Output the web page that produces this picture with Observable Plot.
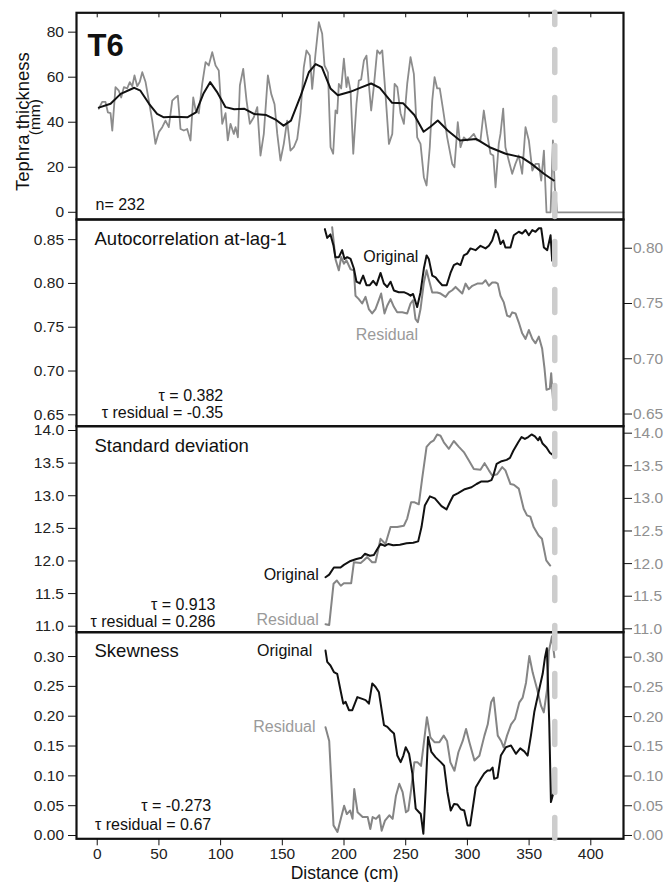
<!DOCTYPE html>
<html><head><meta charset="utf-8">
<script src="https://cdn.jsdelivr.net/npm/d3@7"></script>
<script src="https://cdn.jsdelivr.net/npm/@observablehq/plot@0.6"></script>
<style>
body{margin:0;background:#fff;}
#chart{position:relative;width:667px;height:882px;background:#fff;}
#chart svg{position:absolute;left:0;top:0;}
</style></head><body><div id="chart"></div>
<script>
// ---------- DATA: [distance (cm), value] ----------
const rawThickness = [[1.3,46],[4.0,49],[6.7,49],[8.6,44.4],[10.8,44],[12.2,36.3],[14.8,55.6],[17.5,54],[19.4,51],[21.6,55.6],[24.3,55],[26.4,57.8],[28.4,56],[30.2,60.8],[32.4,56],[34.5,58],[36.5,62.2],[39.1,58],[41.8,49.6],[44.6,40.7],[47.2,30.4],[49.9,35.6],[52.7,37.8],[55.3,40.7],[58.0,37.8],[60.8,49.6],[63.5,51],[65.3,51.8],[67.5,37],[70.2,36.3],[72.9,37],[75.6,31.9],[77.8,51],[79.7,45.5],[82.3,44],[85.1,57],[87.8,66.7],[90.4,65.2],[93.2,71.1],[95.9,65.2],[98.5,63],[101.3,39.3],[104,44],[105.8,31.9],[108,39.3],[110.7,34.8],[112.1,37.8],[114,33.3],[115.6,56.3],[118.3,63.7],[121,49.6],[123.7,39.3],[126.9,42.2],[129.7,46.7],[132.3,25.2],[135,34.8],[138.3,60.8],[141,52.6],[143.7,48],[145.9,34.8],[148.5,23],[151.2,30.4],[153.9,40.7],[156.6,27.4],[159.3,28.9],[162.1,32.6],[164.7,44],[167.4,64.4],[169.6,71.9],[172.3,69.6],[174.2,54.8],[176.9,70.4],[179.6,84.4],[182.3,79.3],[184.2,65.2],[187.0,62],[189.1,28.9],[191.2,26],[193.1,45.2],[194.5,44],[195.8,57],[197.7,55],[199.9,68.2],[202,55.6],[203.1,60],[205.3,54],[207.5,26],[210.1,48.2],[212,58.5],[213.9,59],[216.1,67.4],[218.2,69.6],[220.1,57],[222,45.2],[224.2,56],[226.9,71.9],[229,70.4],[231,71.9],[233.6,52.6],[236.4,30.4],[239.1,34.8],[241,57],[243.2,55.6],[245.8,44],[248.5,39.3],[251.2,57],[253.9,68.9],[256.6,61.5],[259.3,33.3],[262,30.4],[264.7,15.6],[266.9,11.9],[269.5,28.9],[271.5,49.6],[273.4,60],[275.5,55],[277.6,55],[280.4,45.2],[283.6,33.3],[287.7,21.5],[289.5,20],[292.2,40],[294.4,28.9],[297.1,33.3],[299.8,31.9],[302.5,33.3],[305.2,34.8],[307.9,31.9],[310.6,31.9],[313.3,45.2],[316,34.8],[318.7,26],[321,25.2],[322.8,11.1],[325.4,30.4],[326.8,34.8],[329,46],[330.8,28.9],[333.5,23],[336.3,17.1],[338.9,21.5],[341.6,25.2],[344.4,17.1],[347.1,37.8],[349.8,31.9],[352.6,18.5],[355.2,21.5],[357.9,21.5],[359.8,14.1],[362,27.4],[364.1,0],[367.4,0],[369.3,31.9],[370.8,11.1],[372.8,0],[426.5,0]];
const smoothThickness = [[1.3,46.5],[10.8,48.2],[19,52.6],[30,55.3],[35,54],[42,48.2],[48.5,43.7],[54,42.2],[62,42.4],[73,42.2],[80,44.4],[86,52.6],[91.5,57.8],[97,53.5],[104,46.7],[111,45.8],[119,46],[127,43.7],[137,43.2],[145,41],[151,38.5],[157,40.7],[165,51.9],[171.5,62.2],[177,65.8],[182,64.5],[189,55],[195,52],[205,53.5],[214,55.5],[222,57.2],[229,55.3],[239,48.6],[248,48.4],[257,43.2],[264.5,35.8],[270,38],[276,40.8],[284,36.3],[294,31.9],[307,32.6],[318,28.9],[331,26],[344,24.4],[352,21.5],[362,17.1],[370,14.1]];
const acOriginal = [[184.5,0.862],[186.4,0.852],[189,0.856],[191.5,0.843],[193,0.830],[195.8,0.830],[198.5,0.838],[200.4,0.828],[202.6,0.830],[205.3,0.828],[208,0.817],[210.1,0.802],[212.8,0.800],[215.5,0.809],[218.2,0.798],[220.9,0.798],[223.6,0.803],[226.3,0.798],[229.6,0.812],[232.3,0.800],[235,0.796],[237.7,0.802],[240.4,0.792],[244.4,0.790],[248.5,0.790],[251.7,0.788],[253.9,0.786],[256,0.788],[259.3,0.773],[262,0.790],[264.7,0.817],[266.9,0.832],[268.7,0.828],[271.5,0.809],[274.2,0.807],[276.9,0.802],[279.6,0.798],[283.2,0.798],[286.3,0.812],[289,0.821],[291.7,0.823],[294.4,0.821],[297.1,0.832],[299.8,0.834],[302.5,0.840],[306.6,0.838],[310.6,0.843],[314.7,0.840],[317.4,0.843],[320.1,0.849],[322.8,0.861],[324.6,0.857],[326.8,0.845],[329,0.849],[330.8,0.841],[334.9,0.841],[337.6,0.855],[341.6,0.859],[344.4,0.857],[347.1,0.861],[349.8,0.855],[352.6,0.861],[355.2,0.859],[357.9,0.863],[359.8,0.863],[362,0.841],[364.7,0.838],[367.4,0.855],[368.7,0.826]];
const acResidual = [[190.4,0.819],[193.1,0.790],[195.8,0.780],[197.7,0.792],[199.9,0.786],[202,0.789],[205.3,0.781],[208,0.780],[209.3,0.757],[212,0.754],[214.7,0.750],[217.4,0.756],[220.1,0.745],[222.8,0.741],[225.5,0.745],[228.2,0.753],[230.1,0.759],[232.8,0.741],[235,0.748],[237.7,0.754],[240.4,0.747],[243.1,0.742],[247.2,0.742],[251.2,0.741],[253.9,0.750],[256,0.753],[257.9,0.736],[259.8,0.733],[262,0.745],[264.7,0.769],[266.9,0.780],[268.7,0.772],[271.5,0.760],[275.5,0.760],[278.3,0.759],[282.3,0.756],[285,0.760],[287.7,0.762],[290.4,0.765],[293.1,0.762],[295.8,0.759],[298.5,0.768],[301.2,0.763],[304,0.766],[308,0.768],[312.1,0.768],[314.7,0.771],[317.4,0.766],[320.1,0.769],[322.8,0.769],[324.6,0.768],[326.8,0.757],[329.5,0.751],[332.2,0.739],[334.4,0.738],[336.3,0.742],[339,0.741],[341.6,0.733],[344.4,0.723],[347.1,0.718],[349.8,0.726],[352.6,0.718],[355.2,0.714],[357.9,0.720],[360.6,0.709],[362.5,0.691],[364.1,0.672],[366.8,0.673],[367.9,0.687],[369.3,0.664],[370,0.655]];
const sdOriginal = [[185,11.75],[188,11.79],[191.8,11.90],[197.2,11.90],[199.9,11.94],[205.3,12.0],[210.1,12.03],[214.2,12.05],[216.9,12.11],[221,12.08],[224.2,12.09],[226.9,12.18],[229.6,12.26],[233.1,12.23],[235.8,12.26],[239.9,12.24],[245.3,12.25],[250.7,12.27],[256.1,12.28],[260.1,12.30],[262.8,12.52],[265.5,12.85],[269.6,12.99],[273.6,12.96],[279,12.84],[283.1,12.79],[285.8,12.90],[288.5,13.0],[292.5,13.04],[297.9,13.10],[303.3,13.13],[307.4,13.18],[311.4,13.22],[316.8,13.22],[319.5,13.24],[321,13.31],[323.7,13.49],[327.7,13.53],[331.8,13.55],[334.5,13.58],[337.2,13.69],[341.2,13.82],[343.9,13.90],[346.6,13.87],[349.3,13.90],[352,13.94],[354.7,13.91],[357.4,13.85],[358.7,13.90],[360.9,13.80],[364.1,13.74],[366.8,13.66],[369.5,13.62]];
const sdResidual = [[185,11.07],[188,11.06],[191.5,11.69],[194.2,11.74],[197.4,11.66],[199.9,11.70],[205.8,11.70],[208,12.02],[213.5,12.01],[216.1,12.05],[218.8,12.10],[222.8,12.02],[225.5,12.02],[229.6,12.38],[233.6,12.30],[237.7,12.56],[243.1,12.56],[248.5,12.58],[251.2,12.69],[254.4,12.94],[257.2,12.94],[260.6,12.91],[263.3,13.30],[266.9,13.79],[270.1,13.86],[272.8,13.89],[275.5,13.98],[278.2,13.96],[280.9,13.86],[285,13.76],[289,13.88],[293.1,13.79],[297.1,13.71],[301.2,13.58],[305.2,13.45],[310.6,13.44],[313.9,13.54],[317.4,13.43],[320.1,13.35],[324.1,13.37],[328.2,13.48],[330.8,13.43],[334.9,13.22],[337.6,13.21],[341.6,13.15],[345.6,12.84],[348.3,12.74],[351,12.72],[353.7,12.56],[357.7,12.43],[360.4,12.38],[363.9,12.05],[367.1,11.97]];
const skOriginal = [[185,0.310],[186.4,0.291],[189,0.285],[191.8,0.274],[194.5,0.271],[197.2,0.243],[199.4,0.221],[201.3,0.224],[204,0.210],[206.7,0.210],[210.8,0.232],[214.8,0.229],[217.5,0.227],[220.2,0.221],[222.9,0.255],[225.6,0.249],[228.3,0.240],[232.4,0.185],[235.1,0.182],[237.8,0.176],[240.5,0.171],[243.2,0.134],[245.9,0.123],[248.1,0.134],[250,0.148],[252.7,0.137],[255.4,0.104],[258.1,0.045],[260.8,0.039],[262.2,0.036],[264.3,0.003],[266.2,0.078],[268.1,0.165],[270.8,0.140],[274.3,0.131],[278.4,0.123],[281.1,0.117],[283.8,0.073],[286.5,0.042],[289.2,0.053],[291.9,0.052],[294.6,0.044],[297.4,0.042],[300.1,0.017],[302.2,0.017],[305,0.056],[306.8,0.081],[310.9,0.095],[313.6,0.104],[316.3,0.109],[318.5,0.109],[320.4,0.114],[321.7,0.095],[324.4,0.097],[327.1,0.134],[331.2,0.148],[335.3,0.151],[339.3,0.137],[342.8,0.146],[346.1,0.141],[348.8,0.134],[351.5,0.168],[354.2,0.207],[358.3,0.246],[361,0.271],[362.9,0.299],[364.4,0.314],[366.3,0.190],[367.7,0.056],[369.5,0.070]];
const skResidual = [[185,0.182],[188,0.159],[191.5,0.017],[194.7,0.006],[197.4,0.028],[200.1,0.050],[202.3,0.036],[205,0.042],[206.9,0.028],[208.3,0.078],[211,0.039],[215.1,0.031],[219.2,0.031],[221.3,0.011],[223.2,0.031],[225.9,0.028],[228.6,0.034],[230.5,0.008],[233.2,0.025],[236.7,0.034],[239.4,0.028],[242.1,0.067],[244.8,0.087],[247.5,0.073],[250.2,0.039],[252.1,0.042],[254.3,0.076],[257,0.123],[259.7,0.123],[262.4,0.117],[264.6,0.154],[267.2,0.199],[270,0.165],[273.3,0.157],[277.3,0.157],[280.8,0.168],[283.5,0.159],[286.2,0.123],[289.5,0.109],[292.7,0.140],[296.2,0.159],[298.9,0.179],[301.6,0.157],[305.7,0.126],[309.7,0.134],[313.8,0.168],[316.5,0.187],[319.2,0.224],[321.3,0.232],[324.6,0.168],[327.3,0.159],[329.4,0.148],[332.1,0.168],[335.4,0.187],[338.6,0.196],[342.1,0.224],[344.8,0.232],[347.5,0.257],[350.2,0.302],[352.9,0.274],[356.5,0.246],[359.7,0.218],[361.9,0.207],[364.6,0.246],[366,0.31],[368.5,0.335],[370.5,0.30]];
const transitionDist = [370.8];
const xTicks = [0,50,100,150,200,250,300,350,400];
const thickTicks = [0,20,40,60,80];
const acLeftTicks = [0.65,0.70,0.75,0.80,0.85];
const acRightTicks = [0.65,0.70,0.75,0.80];
const sdTicks = [11.0,11.5,12.0,12.5,13.0,13.5,14.0];
const skTicks = [0,0.05,0.10,0.15,0.20,0.25,0.30];
const panelTitles = ["Autocorrelation at-lag-1","Standard deviation","Skewness"];
const tauLabels = [["τ = 0.382","τ residual = -0.35"],["τ = 0.913","τ residual = 0.286"],["τ = -0.273","τ residual = 0.67"]];

// ---------- LAYOUT ----------
const W = 667, H = 882, ML = 76, MR = 44;
const FONT = '"Liberation Sans", Arial, Helvetica, sans-serif';
const xDomain = [-16.8, 426.5];
const BLACK = "#111", GREY = "#858585", LGREY = "#9a9a9a";
const chart = document.getElementById("chart");

function panel(top, bottom, yDomain, marks) {
  const svg = Plot.plot({
    width: W, height: H,
    marginLeft: ML, marginRight: MR, marginTop: top, marginBottom: H - bottom,
    x: {domain: xDomain, axis: null},
    y: {domain: yDomain, axis: null},
    style: {background: "transparent", overflow: "visible", fontFamily: FONT, fontSize: "15.5px", color: BLACK},
    marks
  });
  chart.appendChild(svg);
}
function ann(s, dx, dy, opts = {}) {
  return Plot.text([s], {frameAnchor: opts.frameAnchor || "top-left", text: d => d, dx, dy,
    fontSize: opts.fontSize || 16, fill: opts.fill || BLACK, textAnchor: opts.textAnchor || "start",
    lineAnchor: "middle", fontWeight: opts.fontWeight || "normal", rotate: opts.rotate || 0});
}
const lineOf = (arr, stroke, w) => Plot.line(arr, {x: d => d[0], y: d => d[1], stroke, strokeWidth: w, strokeLinejoin: "round"});
const frame = () => Plot.frame({stroke: BLACK, strokeWidth: 2.2});
const leftAxis = (ticks, fmt) => Plot.axisY({ticks, tickFormat: fmt, tickSize: 8, tickPadding: 4.5, fontSize: 15.5, label: null, stroke: BLACK, fill: "#222"});
const rightAxis = (ticks, fmt) => Plot.axisY({anchor: "right", ticks, tickFormat: fmt, tickSize: 8, tickPadding: 1.5, fontSize: 15.5, label: null, stroke: BLACK, fill: "#909090"});

// Panel 1: tephra thickness
panel(12.3, 219, [-3.2, 88.6], [
  lineOf(rawThickness, "#8c8c8c", 1.8),
  lineOf(smoothThickness, BLACK, 2),
  frame(),
  leftAxis(thickTicks, d3.format("d")),
  Plot.axisX({anchor: "top", ticks: xTicks, tickSize: -4, tickFormat: () => "", label: null, stroke: BLACK}),
  ann("T6", 11, 32.8, {fontSize: 31, fontWeight: "bold"}),
  ann("n= 232", 19, 191.9),
  ann("Tephra thickness", -53.5, 5.5, {frameAnchor: "left", rotate: -90, fontSize: 18.5, textAnchor: "middle"}),
  ann("(mm)", -41.5, 1, {frameAnchor: "left", rotate: -90, fontSize: 15.5, textAnchor: "middle"})
]);

// Panel 2: autocorrelation
panel(219, 425.7, [0.639, 0.826], [
  lineOf(acResidual, GREY, 2),
  rightAxis(acRightTicks, d3.format(".2f"))
]);
panel(219, 425.7, [0.637, 0.873], [
  lineOf(acOriginal, BLACK, 2),
  frame(),
  leftAxis(acLeftTicks, d3.format(".2f")),
  ann(panelTitles[0], 18, 19.4, {fontSize: 18.5}),
  ann(tauLabels[0][0], 146.7, 176.6, {textAnchor: "end"}),
  ann(tauLabels[0][1], 146.7, 193.2, {textAnchor: "end"}),
  ann("Original", 286.7, 37.6),
  ann("Residual", 279.3, 114.9, {fill: LGREY})
]);

// Panel 3: standard deviation
panel(425.7, 631.7, [10.948, 14.107], [
  lineOf(sdResidual, GREY, 2),
  rightAxis(sdTicks, d3.format(".1f"))
]);
panel(425.7, 631.7, [10.908, 14.066], [
  lineOf(sdOriginal, BLACK, 2),
  frame(),
  leftAxis(sdTicks, d3.format(".1f")),
  ann(panelTitles[1], 18, 20.1, {fontSize: 18.5}),
  ann(tauLabels[1][0], 139, 178.5, {textAnchor: "end"}),
  ann(tauLabels[1][1], 139, 195.2, {textAnchor: "end"}),
  ann("Original", 242.3, 148.2, {textAnchor: "end"}),
  ann("Residual", 242.3, 193.9, {textAnchor: "end", fill: LGREY})
]);

// Panel 4: skewness
panel(631.7, 838.3, [-0.0056, 0.342], [
  lineOf(skResidual, GREY, 2),
  rightAxis(skTicks, d3.format(".2f"))
]);
panel(631.7, 838.3, [-0.0055, 0.3408], [
  lineOf(skOriginal, BLACK, 2),
  frame(),
  leftAxis(skTicks, d3.format(".2f")),
  Plot.axisX({ticks: xTicks, tickSize: 7, tickPadding: 2.5, fontSize: 15.5, label: null, stroke: BLACK, fill: "#222"}),
  ann(panelTitles[2], 18, 18.4, {fontSize: 18.5}),
  ann("Original", 235.7, 18.2, {textAnchor: "end"}),
  ann("Residual", 239, 94.2, {textAnchor: "end", fill: LGREY}),
  ann(tauLabels[2][0], 134.7, 173.9, {textAnchor: "end"}),
  ann(tauLabels[2][1], 134.7, 192.2, {textAnchor: "end"}),
  ann("Distance (cm)", -5.3, 34.1, {frameAnchor: "bottom", textAnchor: "middle", fontSize: 17.5})
]);

// Dashed transition line across all panels
panel(12.3, 838.3, [0, 1], [
  Plot.ruleX(transitionDist, {x: d => d, stroke: "#cdcdcd", strokeWidth: 5.5, strokeDasharray: "23,25", strokeDashoffset: 10.85, strokeLinecap: "round"})
]);
</script></body></html>
